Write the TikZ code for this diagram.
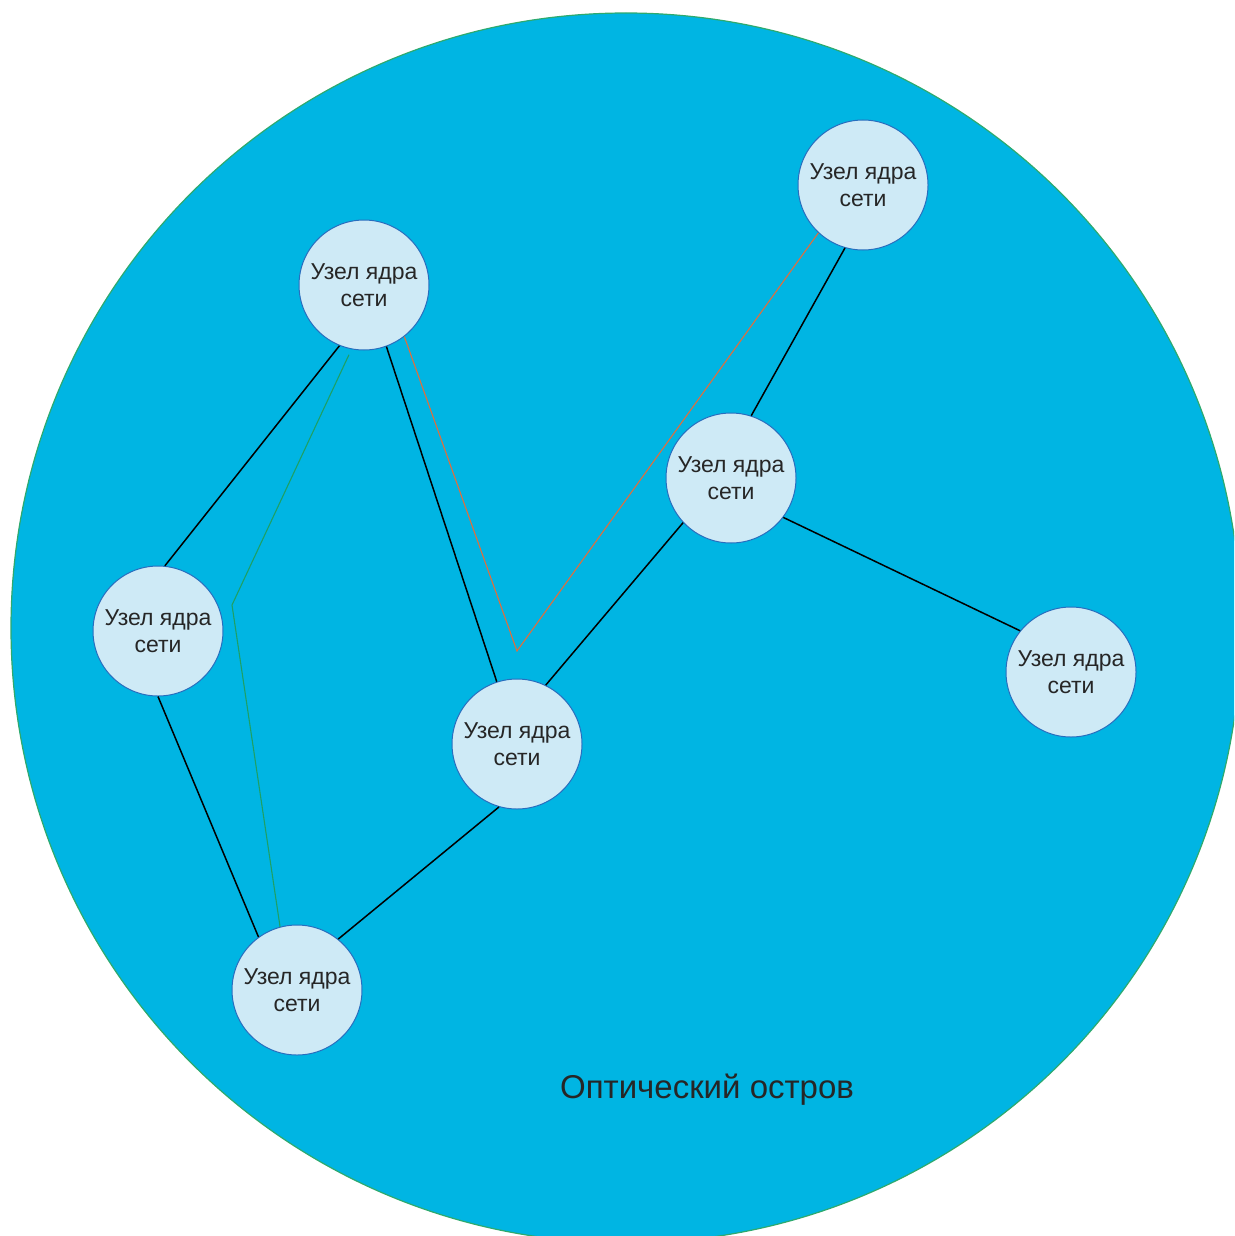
\documentclass[tikz,border=0pt]{standalone}
\usepackage{fontspec}
\setmainfont{Liberation Sans}
\definecolor{island}{RGB}{0,181,227}
\definecolor{islandedge}{RGB}{46,170,110}
\definecolor{nodefill}{RGB}{206,234,246}
\definecolor{nodeedge}{RGB}{40,110,190}
\definecolor{greenline}{RGB}{30,160,100}
\definecolor{orangeline}{RGB}{225,110,60}
\begin{document}
\begin{tikzpicture}[x=1pt,y=-1pt,
  core/.style={circle, draw=nodeedge, line width=1pt, fill=nodefill, minimum size=130pt, inner sep=0pt, align=center, font=\fontsize{23}{27}\selectfont, text=black!85},
  link/.style={line width=1.5pt, black},
  greenlink/.style={line width=1.1pt, greenline},
  orangelink/.style={line width=1.1pt, orangeline},
  caption/.style={font=\fontsize{33}{38}\selectfont, text=black!85}]
\useasboundingbox (0,0) rectangle (1234,1236);
\begin{scope}
  \clip (0,0) rectangle (1234,1236);
  \draw[fill=island, draw=islandedge, line width=1.2pt] (626,628) circle (615pt);
\end{scope}

\node[core] (A) at (364,285) {Узел ядра\\сети};
\node[core] (B) at (863,185) {Узел ядра\\сети};
\node[core] (C) at (731,478) {Узел ядра\\сети};
\node[core] (D) at (158,631) {Узел ядра\\сети};
\node[core] (E) at (517,744) {Узел ядра\\сети};
\node[core] (F) at (1071,672) {Узел ядра\\сети};
\node[core] (G) at (297,990) {Узел ядра\\сети};

\draw[link] (A.-112.8) -- (D.84);
\draw[link] (A.-70.7) -- (E.108.2);
\draw[link] (B.-106.2) -- (C.72.8);
\draw[link] (C.-137.8) -- (E.64.2);
\draw[link] (C.-37.4) -- (F.141.6);
\draw[link] (D.-90) -- (G.126.3);
\draw[link] (E.-106.6) -- (G.51.7);

\coordinate (gb) at (232,605);
\draw[greenlink, shorten <=6pt] (A.-101.3) -- (gb) -- (G.105.8);
\coordinate (ob) at (517,651);
\draw[orangelink] (A.-52.8) -- (ob) -- (B.-133);

\node[caption] (lbl) at (707,1090) {Оптический остров};
\end{tikzpicture}
\end{document}
